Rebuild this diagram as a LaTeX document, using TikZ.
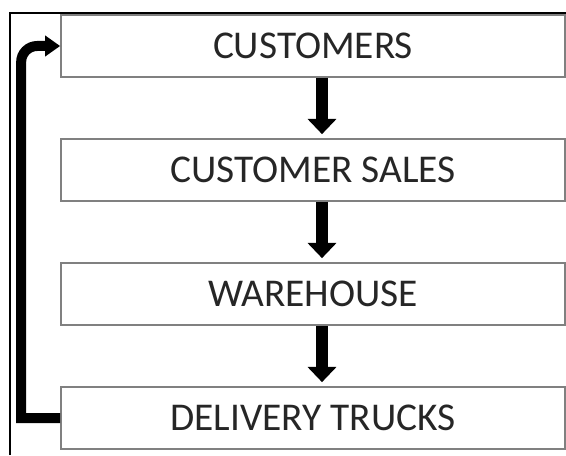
\documentclass[tikz,border=0pt]{standalone}
\usepackage{fontspec}
\setmainfont{Carlito}
\usetikzlibrary{arrows.meta,positioning}

\begin{document}
\begin{tikzpicture}[
		node distance=3.1cm,
		stage/.style = {draw=black!50, line width=1.2pt, minimum width=12.6cm, minimum height=1.55cm, inner sep=0pt, text=black!85, font=\fontsize{28}{32}\selectfont},
		flow/.style = {line width=0.32cm, shorten >=0.1cm, -{Triangle[width=0.7cm,length=0.38cm]}},
		backflow/.style = {line width=0.25cm, -{Triangle[width=0.5cm,length=0.375cm]}}
	]
	\useasboundingbox (0,0) rectangle (14.15,-11.375);
	\draw[line width=1.5pt] (0.25,-11.375) -- (0.25,-0.325) -- (14.15,-0.325);
	\node[stage] (customers) at (7.825,-1.15) {CUSTOMERS};
	\node[stage] (sales) [below of=customers] {CUSTOMER SALES};
	\node[stage] (warehouse) [below of=sales] {WAREHOUSE};
	\node[stage] (trucks) [below of=warehouse] {DELIVERY TRUCKS};
	\draw[flow] ([xshift=0.225cm]customers.south) to ([xshift=0.225cm]sales.north);
	\draw[flow] ([xshift=0.225cm]sales.south) to ([xshift=0.225cm]warehouse.north);
	\draw[flow] ([xshift=0.225cm]warehouse.south) to ([xshift=0.225cm]trucks.north);
	\draw[backflow] (trucks.west) -- ++(-0.975,0) [rounded corners=0.4cm] |- (customers.west);
\end{tikzpicture}
\end{document}
